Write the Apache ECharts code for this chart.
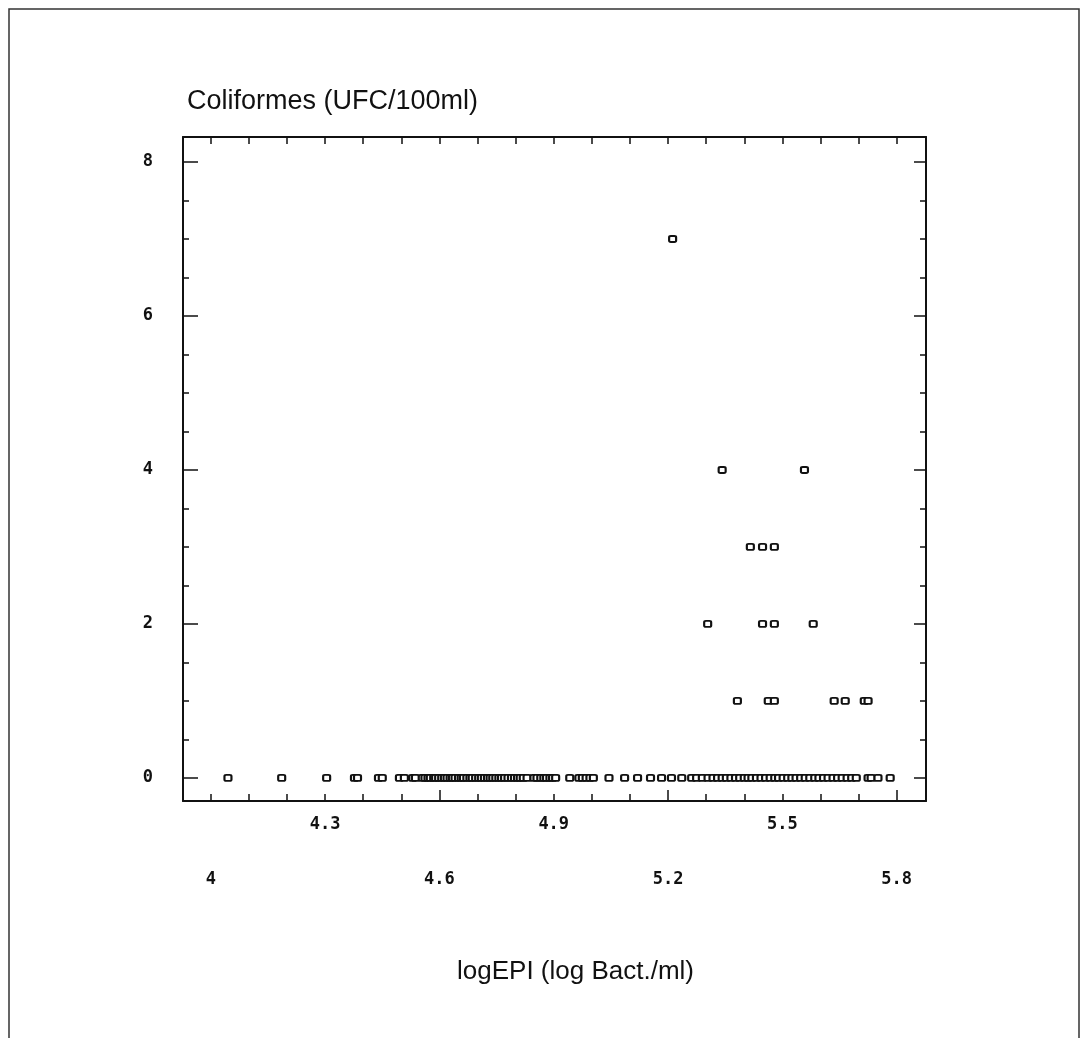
<!DOCTYPE html>
<html>
<head>
<meta charset="utf-8">
<script src="https://cdn.jsdelivr.net/npm/echarts@6/dist/echarts.min.js"></script>
<style>
html,body{margin:0;padding:0;background:#fff;}
#chart{width:1089px;height:1038px;}
</style>
</head>
<body>
<div id="chart"></div>
<script>
// ---- data ----
const titleText = 'Coliformes (UFC/100ml)';
const xName = 'logEPI (log Bact./ml)';

const xLabelsRow1 = [4.3, 4.9, 5.5];
const xLabelsRow2 = [4, 4.6, 5.2, 5.8];
const xTickValues = [4.0,4.1,4.2,4.3,4.4,4.5,4.6,4.7,4.8,4.9,5.0,5.1,5.2,5.3,5.4,5.5,5.6,5.7,5.8];
const xMajorTicks = [4.6, 5.2, 5.8];
const yLabels = [0, 2, 4, 6, 8];
const yTickValues = [0,0.5,1,1.5,2,2.5,3,3.5,4,4.5,5,5.5,6,6.5,7,7.5,8];

// logEPI values for each coliform count
const x_y0 = [4.045, 4.186, 4.304, 4.377, 4.385, 4.44, 4.45, 4.495, 4.508, 4.53, 4.537,
  4.555, 4.562, 4.57, 4.576, 4.585, 4.59, 4.598, 4.606, 4.613, 4.62, 4.628, 4.634, 4.641,
  4.65, 4.657, 4.663, 4.672, 4.68, 4.686, 4.695, 4.703, 4.71, 4.718, 4.726, 4.733, 4.74,
  4.748, 4.756, 4.763, 4.771, 4.78, 4.789, 4.797, 4.805, 4.812, 4.82, 4.83,
  4.848, 4.856, 4.866, 4.874, 4.881, 4.89, 4.897, 4.905,
  4.942, 4.966, 4.975, 4.985, 4.995, 5.004,
  5.045, 5.086, 5.12, 5.154, 5.183, 5.209, 5.236,
  5.262, 5.275, 5.29, 5.305, 5.318, 5.33, 5.342, 5.353, 5.365, 5.377, 5.388, 5.4, 5.41,
  5.42, 5.432, 5.444, 5.456, 5.468, 5.48, 5.49, 5.502, 5.514, 5.525, 5.536, 5.548, 5.56,
  5.572, 5.585, 5.596, 5.608, 5.62, 5.633, 5.645, 5.657, 5.67, 5.682, 5.694,
  5.725, 5.733, 5.751, 5.783];
const x_y1 = [5.382, 5.463, 5.479, 5.636, 5.665, 5.715, 5.725];
const x_y2 = [5.304, 5.448, 5.479, 5.581];
const x_y3 = [5.416, 5.448, 5.479];
const x_y4 = [5.342, 5.558];
const x_y7 = [5.212];

const groups = [[0, x_y0], [1, x_y1], [2, x_y2], [3, x_y3], [4, x_y4], [7, x_y7]];
const points = [];
groups.forEach(([y, xs]) => xs.forEach(x => points.push([x, y])));

const XMIN = 3.927, XMAX = 5.877, YMIN = -0.3, YMAX = 8.325;
const labelFont = {fontFamily: 'DejaVu Sans Mono', fontWeight: 'bold', fontSize: 17, color: '#111'};
const lineStyle = {color: '#111', width: 2};

const chart = echarts.init(document.getElementById('chart'), null, {renderer: 'canvas'});
chart.setOption({
  backgroundColor: '#fff',
  animation: false,
  title: [{
    text: titleText, left: 182, top: 83,
    textStyle: {fontFamily: 'Liberation Sans', fontWeight: 'normal', fontSize: 27, color: '#111'}
  }, {
    text: xName, left: 452, top: 954,
    textStyle: {fontFamily: 'Liberation Sans', fontWeight: 'normal', fontSize: 26, color: '#111'}
  }],
  grid: {left: 183, right: 163, top: 137, bottom: 237, containLabel: false},
  graphic: [{
    type: 'rect', shape: {x: 9, y: 9, width: 1070, height: 1100},
    style: {fill: null, stroke: '#333', lineWidth: 1.5}, silent: true
  }],
  xAxis: [
    {
      type: 'value', position: 'bottom', min: XMIN, max: XMAX,
      axisLine: {show: true, onZero: false, lineStyle: lineStyle},
      axisTick: {show: true, inside: true, length: 7, customValues: xTickValues, lineStyle: {color: '#111', width: 1.5}},
      axisLabel: {show: true, customValues: xLabelsRow1, margin: 15, ...labelFont},
      splitLine: {show: false}
    },
    {
      type: 'value', position: 'bottom', min: XMIN, max: XMAX,
      axisLine: {show: false, onZero: false},
      axisTick: {show: true, inside: true, length: 11, customValues: xMajorTicks, lineStyle: {color: '#111', width: 1.5}},
      axisLabel: {show: true, customValues: xLabelsRow2, margin: 70, ...labelFont},
      splitLine: {show: false}
    },
    {
      type: 'value', position: 'top', min: XMIN, max: XMAX,
      axisLine: {show: true, onZero: false, lineStyle: lineStyle},
      axisTick: {show: true, inside: true, length: 7, customValues: xTickValues, lineStyle: {color: '#111', width: 1.5}},
      axisLabel: {show: false},
      splitLine: {show: false}
    }
  ],
  yAxis: [
    {
      type: 'value', position: 'left', min: YMIN, max: YMAX,
      axisLine: {show: true, onZero: false, lineStyle: lineStyle},
      axisTick: {show: true, inside: true, length: 6, customValues: yTickValues, lineStyle: {color: '#111', width: 1.5}},
      axisLabel: {show: true, customValues: yLabels, margin: 30, ...labelFont},
      splitLine: {show: false}
    },
    {
      type: 'value', position: 'left', min: YMIN, max: YMAX,
      axisLine: {show: false, onZero: false},
      axisTick: {show: true, inside: true, length: 15, customValues: yLabels, lineStyle: {color: '#111', width: 1.5}},
      axisLabel: {show: false},
      splitLine: {show: false}
    },
    {
      type: 'value', position: 'right', min: YMIN, max: YMAX,
      axisLine: {show: true, onZero: false, lineStyle: lineStyle},
      axisTick: {show: true, inside: true, length: 6, customValues: yTickValues, lineStyle: {color: '#111', width: 1.5}},
      axisLabel: {show: false},
      splitLine: {show: false}
    },
    {
      type: 'value', position: 'right', min: YMIN, max: YMAX,
      axisLine: {show: false, onZero: false},
      axisTick: {show: true, inside: true, length: 12, customValues: yLabels, lineStyle: {color: '#111', width: 1.5}},
      axisLabel: {show: false},
      splitLine: {show: false}
    }
  ],
  series: [{
    type: 'scatter', xAxisIndex: 0, yAxisIndex: 0,
    data: points,
    symbol: 'roundRect', symbolSize: [7, 6],
    itemStyle: {color: '#fff', borderColor: '#111', borderWidth: 2, opacity: 1}
  }]
});
</script>
</body>
</html>
